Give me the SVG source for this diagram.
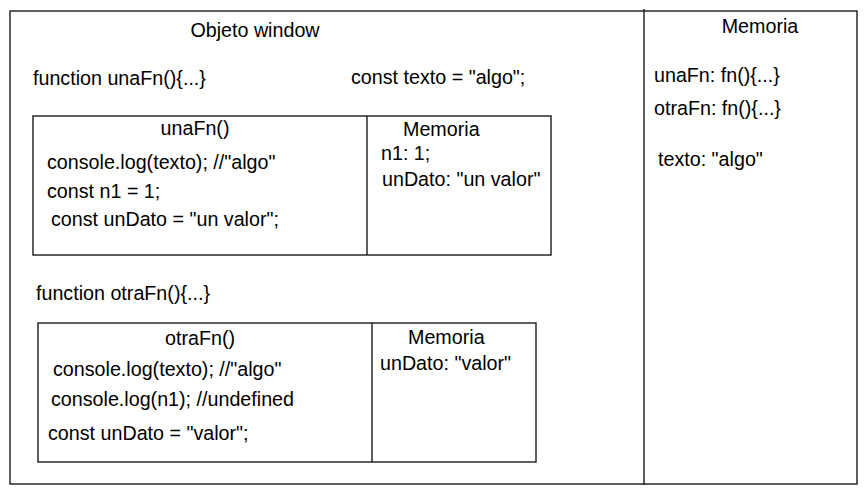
<svg xmlns="http://www.w3.org/2000/svg" width="868" height="494" viewBox="0 0 868 494">
<style>
.b{fill:none;stroke:#1a1a1a;stroke-width:1.4}
text{font-family:"Liberation Sans",Arial,sans-serif;font-size:19.7px;fill:#000}
.c{text-anchor:middle}
</style>
<rect width="868" height="494" fill="#fff"/>
<g id="window">
<rect class="b" x="10" y="11" width="847" height="473"/>
<line class="b" x1="644" y1="9" x2="644" y2="485"/>
<text class="c" x="255" y="37">Objeto window</text>
<text x="33" y="85">function unaFn(){...}</text>
<text x="351" y="84">const texto = "algo";</text>
<text x="36" y="300">function otraFn(){...}</text>
</g>
<g id="memoria-global">
<text class="c" x="760" y="33">Memoria</text>
<text x="654" y="82">unaFn: fn(){...}</text>
<text x="654" y="115">otraFn: fn(){...}</text>
<text x="658" y="166">texto: "algo"</text>
</g>
<g id="unaFn">
<rect class="b" x="33" y="116" width="518" height="139"/>
<line class="b" x1="367" y1="116" x2="367" y2="255"/>
<text class="c" x="195" y="135">unaFn()</text>
<text x="47" y="169">console.log(texto); //"algo"</text>
<text x="47" y="198">const n1 = 1;</text>
<text x="51" y="226">const unDato = "un valor";</text>
</g>
<g id="unaFn-memoria">
<text x="403" y="136">Memoria</text>
<text x="381" y="160">n1: 1;</text>
<text x="382" y="186">unDato: "un valor"</text>
</g>
<g id="otraFn">
<rect class="b" x="38" y="323" width="498" height="139"/>
<line class="b" x1="372" y1="323" x2="372" y2="462"/>
<text class="c" x="200" y="345">otraFn()</text>
<text x="53" y="376">console.log(texto); //"algo"</text>
<text x="51" y="406">console.log(n1); //undefined</text>
<text x="48" y="440">const unDato = "valor";</text>
</g>
<g id="otraFn-memoria">
<text x="408" y="344">Memoria</text>
<text x="380" y="370">unDato: "valor"</text>
</g>
<g id="connectors"/>
</svg>
